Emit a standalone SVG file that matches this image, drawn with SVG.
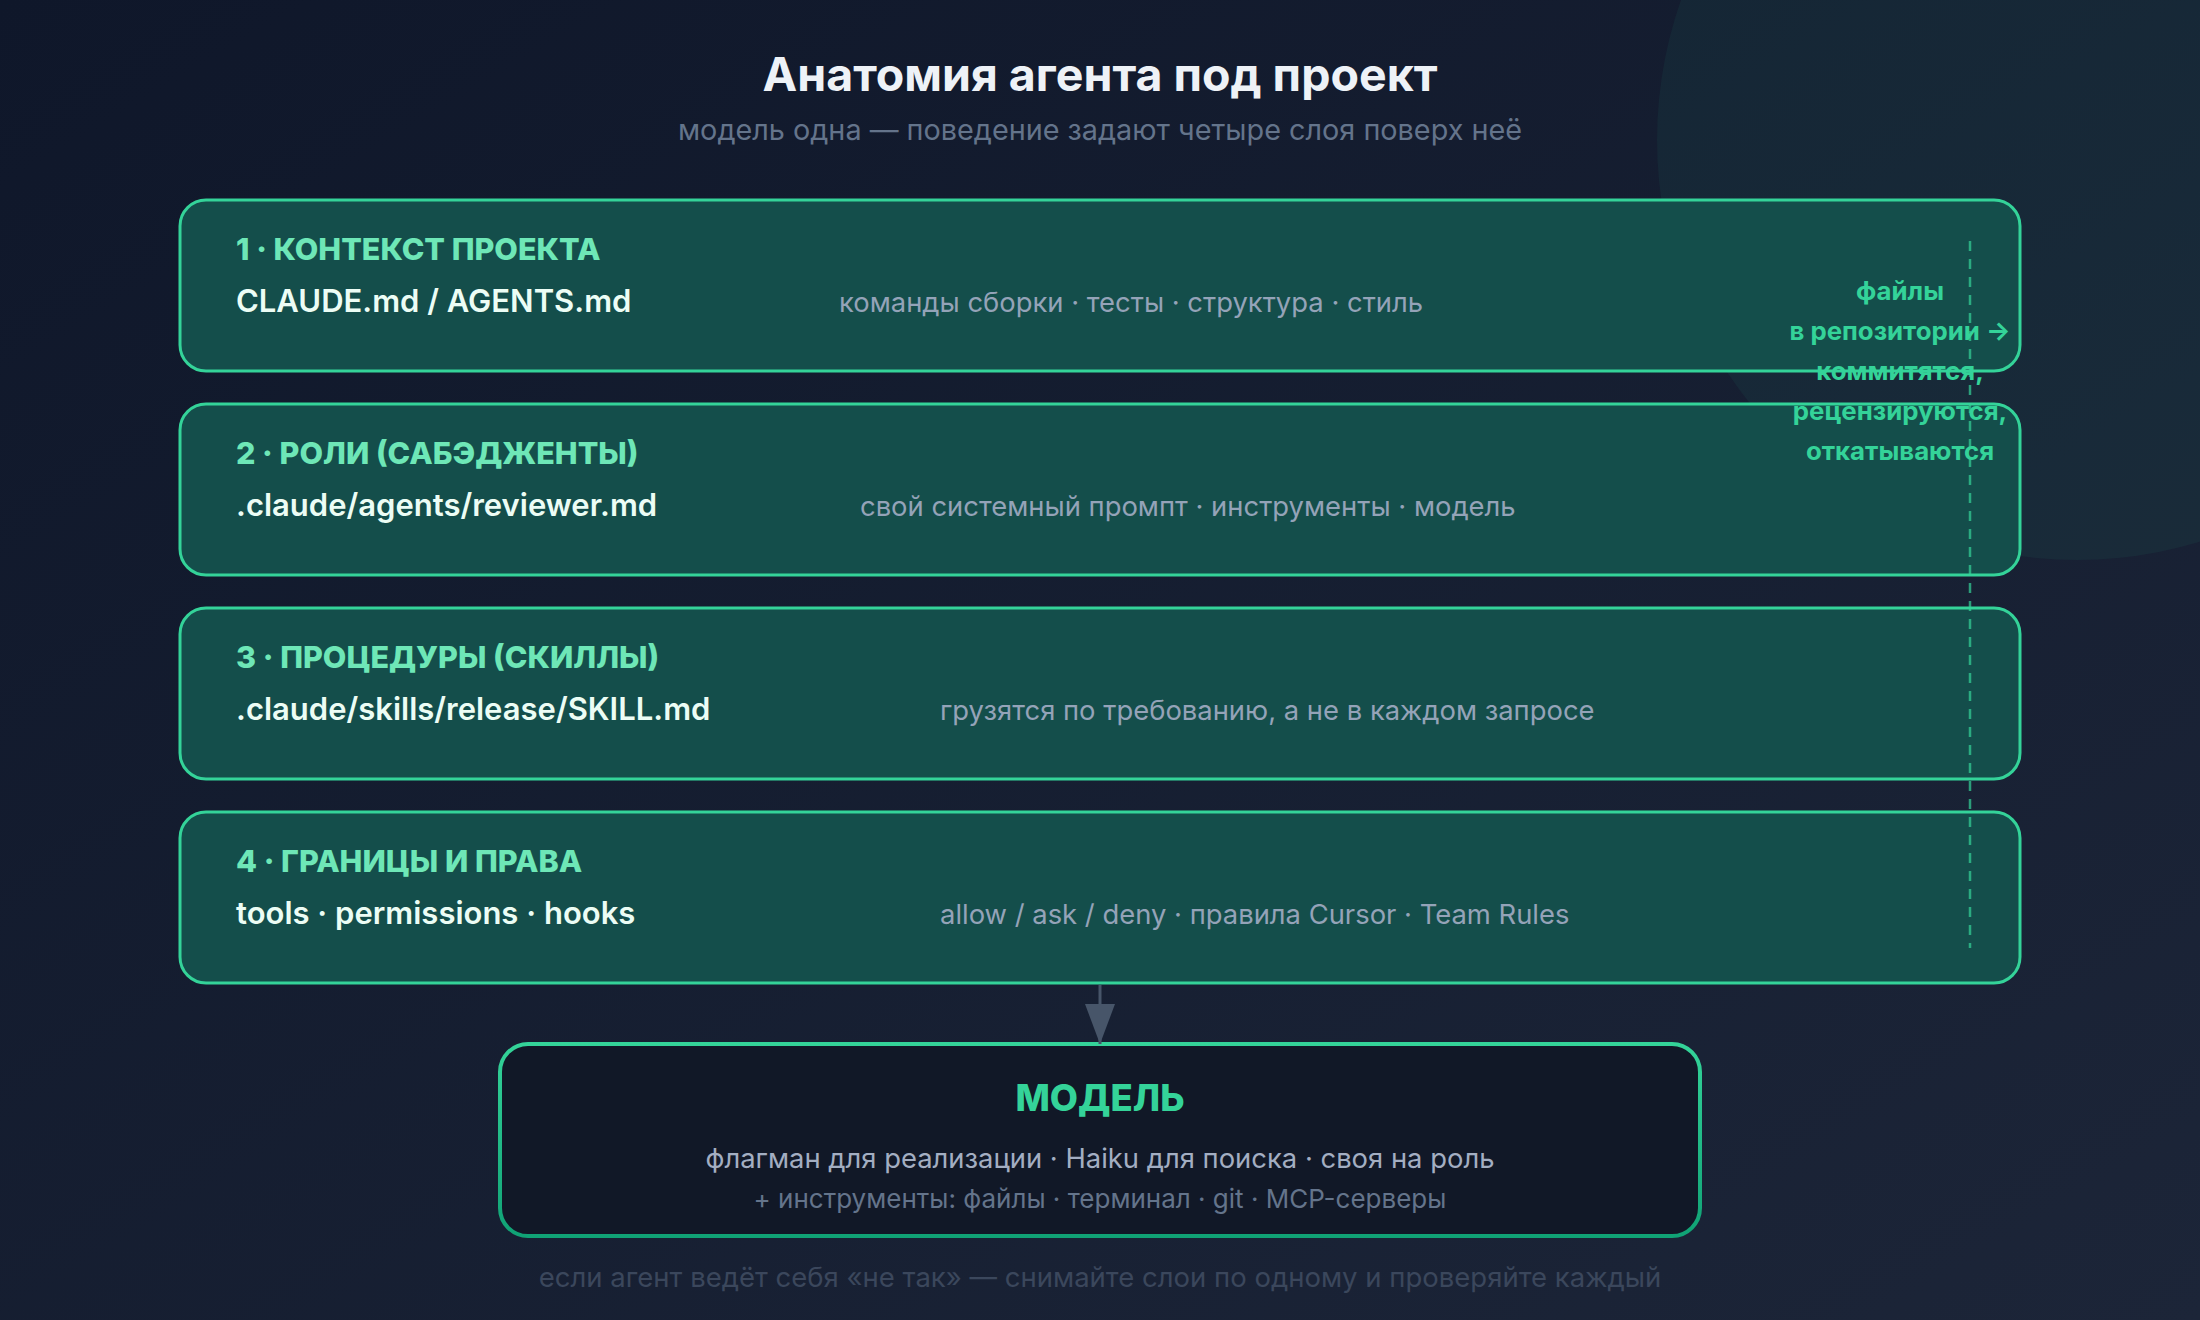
<svg xmlns="http://www.w3.org/2000/svg" width="2200" height="1320" viewBox="0 0 2200 1320">
  <defs>
    <linearGradient id="bg" x1="0" y1="0" x2="1" y2="1">
      <stop offset="0" stop-color="#0f172a"/>
      <stop offset="1" stop-color="#1c2538"/>
    </linearGradient>
    <linearGradient id="modelStroke" x1="0" y1="0" x2="0" y2="1">
      <stop offset="0" stop-color="#34d399"/>
      <stop offset="1" stop-color="#10a275"/>
    </linearGradient>
    <marker id="arrow" viewBox="0 0 40 30" refX="40" refY="15" markerWidth="40" markerHeight="30" markerUnits="userSpaceOnUse" orient="auto">
      <path d="M0,0 L40,15 L0,30 Z" fill="#475569"/>
    </marker>
    <style>
      .layer { fill: #144e4b; stroke: #34d399; stroke-width: 3; }
      .label { font-family: Inter, "Noto Sans", sans-serif; font-weight: 800; font-size: 30.5px; fill: #6ee7b7; }
      .code { font-family: Inter, "Noto Sans", sans-serif; font-weight: 600; font-size: 31px; fill: #ecfdf5; }
      .desc { font-family: Inter, "Noto Sans", sans-serif; font-weight: 400; font-size: 27.4px; fill: #94a3b8; }
      .note { font-family: Inter, "Noto Sans", sans-serif; font-weight: 700; font-size: 25.8px; fill: #34d399; text-anchor: middle; }
      .center { text-anchor: middle; }
    </style>
  </defs>

  <rect width="2200" height="1320" fill="url(#bg)"/>
  <circle cx="2077" cy="140" r="420" fill="#34d399" fill-opacity="0.06"/>

  <g id="header">
    <text x="1100" y="91" class="center" font-family="Inter, 'Noto Sans', sans-serif" font-weight="700" font-size="46.5" fill="#eef2f7">Анатомия агента под проект</text>
    <text x="1100" y="140" class="center" font-family="Inter, 'Noto Sans', sans-serif" font-size="28.8" fill="#64748b">модель одна — поведение задают четыре слоя поверх неё</text>
  </g>

  <g id="layer1">
    <rect class="layer" x="180" y="200" width="1840" height="171" rx="26"/>
    <text class="label" x="236" y="260">1 · КОНТЕКСТ ПРОЕКТА</text>
    <text class="code" x="236" y="312">CLAUDE.md / AGENTS.md</text>
    <text class="desc" x="839" y="312">команды сборки · тесты · структура · стиль</text>
  </g>

  <g id="layer2">
    <rect class="layer" x="180" y="404" width="1840" height="171" rx="26"/>
    <text class="label" x="236" y="464">2 · РОЛИ (САБЭДЖЕНТЫ)</text>
    <text class="code" x="236" y="516">.claude/agents/reviewer.md</text>
    <text class="desc" x="860" y="516">свой системный промпт · инструменты · модель</text>
  </g>

  <g id="layer3">
    <rect class="layer" x="180" y="608" width="1840" height="171" rx="26"/>
    <text class="label" x="236" y="668">3 · ПРОЦЕДУРЫ (СКИЛЛЫ)</text>
    <text class="code" x="236" y="720">.claude/skills/release/SKILL.md</text>
    <text class="desc" x="940" y="720">грузятся по требованию, а не в каждом запросе</text>
  </g>

  <g id="layer4">
    <rect class="layer" x="180" y="812" width="1840" height="171" rx="26"/>
    <text class="label" x="236" y="872">4 · ГРАНИЦЫ И ПРАВА</text>
    <text class="code" x="236" y="924">tools · permissions · hooks</text>
    <text class="desc" x="940" y="924">allow / ask / deny · правила Cursor · Team Rules</text>
  </g>

  <g id="model">
    <rect x="500" y="1044" width="1200" height="192" rx="28" fill="#111827" stroke="url(#modelStroke)" stroke-width="4"/>
    <text x="1100" y="1111" class="center" font-family="Inter, 'Noto Sans', sans-serif" font-weight="800" font-size="36.5" fill="#34d399">МОДЕЛЬ</text>
    <text x="1100" y="1168" class="center" font-family="Inter, 'Noto Sans', sans-serif" font-size="27.4" fill="#a3aec2">флагман для реализации · Haiku для поиска · своя на роль</text>
    <text x="1100" y="1208" class="center" font-family="Inter, 'Noto Sans', sans-serif" font-size="26" fill="#64748b">+ инструменты: файлы · терминал · git · MCP-серверы</text>
  </g>

  <g id="connectors">
    <line x1="1100" y1="985" x2="1100" y2="1044" stroke="#475569" stroke-width="3" marker-end="url(#arrow)"/>
    <line x1="1970" y1="241" x2="1970" y2="948" stroke="#34d399" stroke-opacity="0.7" stroke-width="2.5" stroke-dasharray="10 8"/>
  </g>

  <g id="repo-note">
    <text class="note" x="1900" y="300">файлы</text>
    <text class="note" x="1900" y="340">в репозитории →</text>
    <text class="note" x="1900" y="380">коммитятся,</text>
    <text class="note" x="1900" y="420">рецензируются,</text>
    <text class="note" x="1900" y="460">откатываются</text>
  </g>

  <g id="footer">
    <text x="1100" y="1287" class="center" font-family="Inter, 'Noto Sans', sans-serif" font-size="27.5" fill="#3b475c">если агент ведёт себя «не так» — снимайте слои по одному и проверяйте каждый</text>
  </g>
</svg>
